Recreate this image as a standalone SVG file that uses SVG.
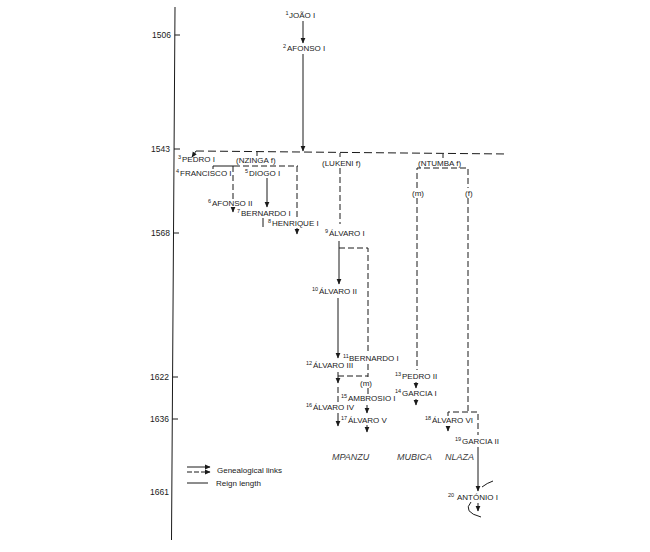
<svg xmlns="http://www.w3.org/2000/svg" width="650" height="552" viewBox="0 0 650 552">
<style>
text{font-family:"Liberation Sans",Arial,sans-serif;fill:#1a1a1a}
.n{font-size:8px}
.s{font-size:5.5px}
.y{font-size:8.5px;text-anchor:end}
.c{font-size:9px;font-style:italic;fill:#3a3a3a}
.l{stroke:#1a1a1a;stroke-width:1;fill:none}
.d{stroke:#1a1a1a;stroke-width:1;fill:none;stroke-dasharray:6 3}
.a{marker-end:url(#ar)}
</style>
<defs>
<marker id="ar" markerUnits="userSpaceOnUse" markerWidth="6" markerHeight="6" viewBox="0 0 6 6" refX="5" refY="3" orient="auto">
<path d="M0,0.6 L5.5,3 L0,5.4 Z" fill="#1a1a1a"/>
</marker>
</defs>
<rect width="650" height="552" fill="#fff"/>
<g id="axis">
<line class="l" x1="175" y1="7" x2="171.5" y2="540"/>
<line class="l" x1="174.8" y1="35" x2="180" y2="35"/>
<line class="l" x1="174" y1="149" x2="180" y2="149"/>
<line class="l" x1="173.5" y1="233" x2="179" y2="233"/>
<line class="l" x1="172.5" y1="377" x2="178" y2="377"/>
<line class="l" x1="172.3" y1="419" x2="178" y2="419"/>
<text class="y" x="171" y="38">1506</text>
<text class="y" x="170" y="152">1543</text>
<text class="y" x="170" y="236">1568</text>
<text class="y" x="169" y="380">1622</text>
<text class="y" x="169" y="422">1636</text>
<text class="y" x="169" y="495">1661</text>
</g>
<g id="connectors">
<line class="l a" x1="303" y1="21" x2="303" y2="43"/>
<line class="l a" x1="303" y1="54" x2="303" y2="151"/>
<line class="d" x1="196" y1="151" x2="508" y2="154" style="stroke-dasharray:8 4"/>
<line class="l a" x1="196" y1="151" x2="192" y2="157"/>
<line class="l" x1="257" y1="152" x2="257" y2="156"/>
<line class="l" x1="340" y1="153" x2="340" y2="157"/>
<line class="l" x1="443" y1="154" x2="443" y2="158"/>
<polyline class="l" points="213,169 213,166 234,166"/>
<line class="d" x1="234" y1="166" x2="298" y2="166"/>
<line class="d" x1="233" y1="166" x2="233" y2="200"/>
<line class="l a" x1="233" y1="207" x2="233" y2="212"/>
<line class="l a" x1="267" y1="178" x2="267" y2="207"/>
<line class="d" x1="297" y1="166" x2="297" y2="217"/>
<line class="l a" x1="297" y1="228" x2="297" y2="234"/>
<line class="l" x1="263" y1="218" x2="263" y2="227"/>
<line class="d" x1="340" y1="168" x2="340" y2="224"/>
<line class="l a" x1="339" y1="241" x2="339" y2="284"/>
<polyline class="d" points="339,248 368,248 368,352"/>
<line class="d" x1="368" y1="364" x2="368" y2="377"/>
<line class="l a" x1="338" y1="298" x2="338" y2="358"/>
<line class="d" x1="338" y1="376" x2="368" y2="376"/>
<line class="d" x1="368" y1="388" x2="368" y2="395"/>
<line class="l a" x1="338" y1="372" x2="338" y2="383"/>
<line class="d" x1="338" y1="387" x2="338" y2="404"/>
<line class="l a" x1="338" y1="413" x2="338" y2="426"/>
<line class="l a" x1="367" y1="405" x2="367" y2="413"/>
<line class="l a" x1="367" y1="425" x2="367" y2="432"/>
<polyline class="d" points="417,188 417,168 468,168 468,188"/>
<line class="d" x1="417" y1="198" x2="417" y2="370"/>
<line class="d" x1="468" y1="198" x2="468" y2="412"/>
<line class="l a" x1="416" y1="382" x2="416" y2="388"/>
<line class="l a" x1="416" y1="399" x2="416" y2="405"/>
<polyline class="d" points="448,416 448,412 478,412 478,435"/>
<line class="l a" x1="448" y1="426" x2="448" y2="431"/>
<line class="l a" x1="478" y1="447" x2="478" y2="491"/>
<path class="l" d="M482,487 Q487,483 493,481"/>
<line class="l a" x1="478" y1="503" x2="478" y2="511"/>
<path class="l" d="M471,502 Q462,512 481,517"/>
</g>
<g id="n1"><text class="n" x="289" y="18"><tspan class="s" x="285.5" dy="-3">1</tspan><tspan x="289" dy="3">JOÃO I</tspan></text></g>
<g id="n2"><text class="n" x="287" y="51"><tspan class="s" x="283" dy="-3">2</tspan><tspan x="287" dy="3">AFONSO I</tspan></text></g>
<g id="n3"><text class="n" x="182" y="162"><tspan class="s" x="178" dy="-3">3</tspan><tspan x="182" dy="3">PEDRO I</tspan></text></g>
<g id="nzinga"><text class="n" x="236" y="163">(NZINGA f)</text></g>
<g id="lukeni"><text class="n" x="322" y="166">(LUKENI f)</text></g>
<g id="ntumba"><text class="n" x="418" y="166">(NTUMBA f)</text></g>
<g id="n4"><text class="n" x="180" y="176"><tspan class="s" x="176" dy="-3">4</tspan><tspan x="180" dy="3">FRANCISCO I</tspan></text></g>
<g id="n5"><text class="n" x="249" y="176"><tspan class="s" x="245" dy="-3">5</tspan><tspan x="249" dy="3">DIOGO I</tspan></text></g>
<g id="n6"><text class="n" x="212" y="206"><tspan class="s" x="208" dy="-3">6</tspan><tspan x="212" dy="3">AFONSO II</tspan></text></g>
<g id="n7"><text class="n" x="241" y="216"><tspan class="s" x="237" dy="-3">7</tspan><tspan x="241" dy="3">BERNARDO I</tspan></text></g>
<g id="n8"><text class="n" x="272" y="226"><tspan class="s" x="268" dy="-3">8</tspan><tspan x="272" dy="3">HENRIQUE I</tspan></text></g>
<g id="n9"><text class="n" x="329" y="236"><tspan class="s" x="325" dy="-3">9</tspan><tspan x="329" dy="3">ÁLVARO I</tspan></text></g>
<g id="n10"><text class="n" x="319" y="294"><tspan class="s" x="312" dy="-3">10</tspan><tspan x="319" dy="3">ÁLVARO II</tspan></text></g>
<g id="n11"><text class="n" x="349" y="361"><tspan class="s" x="343" dy="-3">11</tspan><tspan x="349" dy="3">BERNARDO I</tspan></text></g>
<g id="n12"><text class="n" x="313" y="368"><tspan class="s" x="306" dy="-3">12</tspan><tspan x="313" dy="3">ÁLVARO III</tspan></text></g>
<g id="m1"><text class="n" x="360" y="386">(m)</text></g>
<g id="n15"><text class="n" x="348" y="401"><tspan class="s" x="341" dy="-3">15</tspan><tspan x="348" dy="3">AMBROSIO I</tspan></text></g>
<g id="n16"><text class="n" x="313" y="410"><tspan class="s" x="306" dy="-3">16</tspan><tspan x="313" dy="3">ÁLVARO IV</tspan></text></g>
<g id="n17"><text class="n" x="348" y="423"><tspan class="s" x="341" dy="-3">17</tspan><tspan x="348" dy="3">ÁLVARO V</tspan></text></g>
<g id="m2"><text class="n" x="412" y="196">(m)</text></g>
<g id="f1"><text class="n" x="465" y="196">(f)</text></g>
<g id="n13"><text class="n" x="402" y="379"><tspan class="s" x="395" dy="-3">13</tspan><tspan x="402" dy="3">PEDRO II</tspan></text></g>
<g id="n14"><text class="n" x="402" y="396"><tspan class="s" x="395" dy="-3">14</tspan><tspan x="402" dy="3">GARCIA I</tspan></text></g>
<g id="n18"><text class="n" x="432" y="423"><tspan class="s" x="425" dy="-3">18</tspan><tspan x="432" dy="3">ÁLVARO VI</tspan></text></g>
<g id="n19"><text class="n" x="462" y="444"><tspan class="s" x="455" dy="-3">19</tspan><tspan x="462" dy="3">GARCIA II</tspan></text></g>
<g id="n20"><text class="n" x="457" y="500"><tspan class="s" x="448" dy="-3">20</tspan><tspan x="457" dy="3">ANTÓNIO I</tspan></text></g>
<g id="clans">
<text class="c" x="332" y="460">MPANZU</text>
<text class="c" x="397" y="460">MUBICA</text>
<text class="c" x="445" y="460">NLAZA</text>
</g>
<g id="legend">
<line class="l a" x1="187" y1="467" x2="210" y2="467"/>
<line class="d a" x1="187" y1="472" x2="210" y2="472" style="stroke-dasharray:5 2"/>
<text class="n" x="217" y="473">Genealogical links</text>
<line class="l" x1="187" y1="483" x2="208" y2="483"/>
<text class="n" x="216" y="486">Reign length</text>
</g>
</svg>
